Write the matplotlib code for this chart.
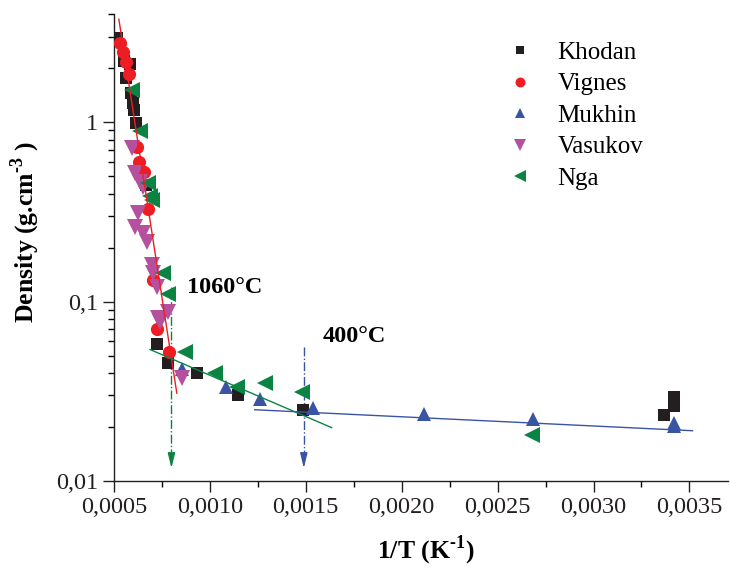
import matplotlib
matplotlib.use("Agg")
import matplotlib.pyplot as plt
from matplotlib.ticker import FixedLocator, FuncFormatter, LogLocator, NullFormatter
import numpy as np

plt.rcParams["font.family"] = ["Liberation Serif", "DejaVu Serif"]
plt.rcParams["mathtext.fontset"] = "custom"
plt.rcParams["mathtext.rm"] = "Liberation Serif:bold"
plt.rcParams["mathtext.bf"] = "Liberation Serif:bold"

# ---- data: 1/T (K^-1) and density (g/cm^3) ----
khodan_x = [0.000516, 0.000552, 0.000583, 0.000563, 0.000589, 0.000599, 0.000604,
            0.000615, 0.000667, 0.000724, 0.000781, 0.000932, 0.001146, 0.001484,
            0.003370, 0.003417, 0.003417]
khodan_y = [2.94, 2.19, 2.10, 1.76, 1.45, 1.28, 1.17,
            0.99, 0.446, 0.058, 0.0454, 0.0400, 0.0301, 0.0249,
            0.0233, 0.0294, 0.0262]

vignes_x = [0.000531, 0.000547, 0.000563, 0.000578, 0.000620, 0.000630, 0.000656,
            0.000677, 0.000703, 0.000724, 0.000786]
vignes_y = [2.75, 2.45, 2.16, 1.85, 0.726, 0.598, 0.527,
            0.328, 0.132, 0.0703, 0.0523]

mukhin_x = [0.000854, 0.001083, 0.001260, 0.001536, 0.002115, 0.002682, 0.003417, 0.003417]
mukhin_y = [0.0421, 0.0334, 0.0286, 0.0255, 0.0236, 0.0221, 0.0212, 0.0204]

vasukov_x = [0.000594, 0.000609, 0.000635, 0.000651, 0.000625, 0.000609, 0.000651,
             0.000672, 0.000698, 0.000703, 0.000724, 0.000729, 0.000740, 0.000781,
             0.000854]
vasukov_y = [0.716, 0.520, 0.463, 0.435, 0.311, 0.260, 0.241,
             0.214, 0.160, 0.144, 0.120, 0.0809, 0.0770, 0.0874,
             0.0375]

nga_x = [0.000594, 0.000635, 0.000677, 0.000688, 0.000698, 0.000755, 0.000781,
         0.000870, 0.001026, 0.001141, 0.001286, 0.001479, 0.002677]
nga_y = [1.51, 0.89, 0.457, 0.387, 0.368, 0.144, 0.111,
         0.0523, 0.0400, 0.0334, 0.0352, 0.0313, 0.0180]

# linear fits in log10(density) vs 1/T: (x_start, x_end, log10 intercept, slope)
fit_red = (0.000526, 0.000828, 4.204, -6901.0)
fit_green = (0.000688, 0.001635, -0.950, -460.0)
fit_blue = (0.001234, 0.003516, -1.539, -51.3)

# transition markers
t_1060 = 0.00080
t_400 = 0.00149

x_ticks = [0.0005, 0.0010, 0.0015, 0.0020, 0.0025, 0.0030, 0.0035]
y_ticks = [0.01, 0.1, 1]

c_black = "#231f20"
c_red = "#ee1d23"
c_blue = "#3a54a4"
c_mag = "#b5509e"
c_green = "#0b8443"

fig = plt.figure(figsize=(7.3, 5.7), dpi=100)
ax = fig.add_axes([0.156, 0.156, 0.841, 0.819])
ax.set_yscale("log")

def fit_line(spec, color):
    x0, x1, a, b = spec
    xs = np.linspace(x0, x1, 50)
    ax.plot(xs, 10 ** (a + b * xs), color=color, lw=1.0, zorder=4)

fit_line(fit_red, c_red)
fit_line(fit_green, c_green)
fit_line(fit_blue, c_blue)

ax.plot(khodan_x, khodan_y, "s", color=c_black, ms=8, mew=0, label="Khodan", zorder=3)
ax.plot(vignes_x, vignes_y, "o", color=c_red, ms=9.5, mew=0, label="Vignes", zorder=3)
ax.plot(mukhin_x, mukhin_y, "^", color=c_blue, ms=10, mew=0, label="Mukhin", zorder=3)
ax.plot(vasukov_x, vasukov_y, "v", color=c_mag, ms=11, mew=0, label="Vasukov", zorder=3)
ax.plot(nga_x, nga_y, "<", color=c_green, ms=11, mew=0, label="Nga", zorder=3)

# dash-dot arrows marking the transitions
def drop_arrow(x, y_top, y_end, color):
    ax.plot([x, x], [y_top, y_end * 1.12], ls="-.", color=color, lw=1.0, zorder=2)
    ax.annotate("", xy=(x, y_end), xytext=(x, y_end * 1.15),
                arrowprops=dict(arrowstyle="-|>,head_length=0.9,head_width=0.22",
                                color=color, lw=1.0, shrinkA=0, shrinkB=0))

drop_arrow(t_1060, 0.12, 0.0118, c_green)
drop_arrow(t_400, 0.056, 0.0118, c_blue)

ax.text(0.00088, 0.12, "1060°C", fontsize=17.5, fontweight="bold", va="center", ha="left")
ax.text(0.00159, 0.064, "400°C", fontsize=17.5, fontweight="bold", va="center", ha="left")

ax.set_xlim(0.0005, 0.0037)
ax.set_ylim(0.01, 4.0)

ax.xaxis.set_major_locator(FixedLocator(x_ticks))
ax.xaxis.set_minor_locator(FixedLocator([t + 0.00025 for t in x_ticks]))
ax.xaxis.set_major_formatter(FuncFormatter(lambda v, p: f"{v:.4f}".replace(".", ",")))
ax.yaxis.set_major_locator(FixedLocator(y_ticks))
ax.yaxis.set_minor_locator(LogLocator(base=10, subs=np.arange(2, 10)))
ax.yaxis.set_minor_formatter(NullFormatter())
ax.yaxis.set_major_formatter(FuncFormatter(lambda v, p: {0.01: "0,01", 0.1: "0,1", 1: "1"}.get(round(v, 3), "")))

ax.tick_params(which="major", direction="out", length=8, width=1.0, labelsize=17.5, colors="#231f20")
ax.tick_params(which="minor", direction="out", length=4.5, width=1.0)
for s in ["top", "right"]:
    ax.spines[s].set_visible(False)
for s in ["left", "bottom"]:
    ax.spines[s].set_linewidth(1.0)
    ax.spines[s].set_color("#231f20")

ax.set_xlabel(r"1/T (K$^{\text{-1}}$)", fontsize=18.5, fontweight="bold")
ax.set_ylabel(r"Density (g.cm$^{\text{-3}}$ )", fontsize=18.5, fontweight="bold")
ax.xaxis.set_label_coords(0.508, -0.112)
ax.yaxis.set_label_coords(-0.117, 0.533)

leg = ax.legend(loc="upper left", bbox_to_anchor=(0.6, 0.99), frameon=False, fontsize=18,
                markerscale=0.75, handletextpad=0.9, labelspacing=0.36, handlelength=1.2)

fig.savefig("out.png", dpi=100)
